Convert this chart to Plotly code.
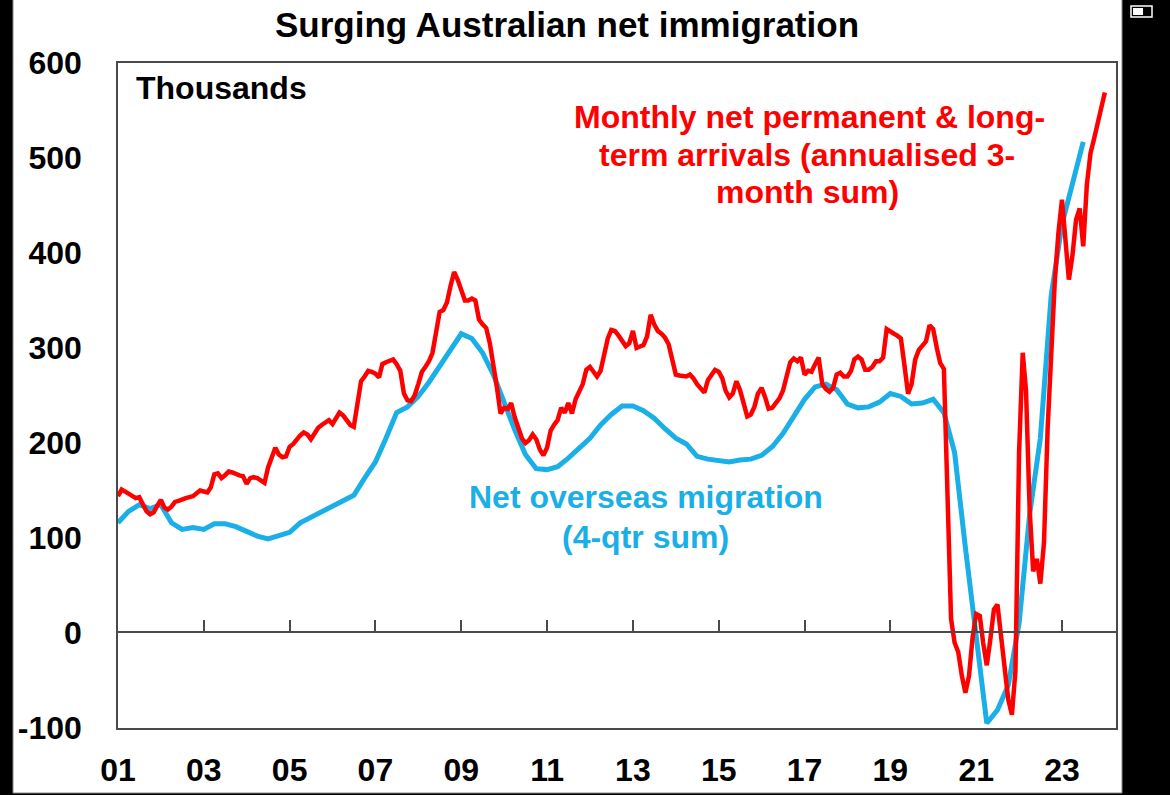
import pandas as pd
import plotly.graph_objects as go

# ---------------- data ----------------
# Monthly net permanent & long-term arrivals (annualised 3-month sum), thousands, Jan 2001 .. Jan 2024
red_2001 = [144, 151, 149, 147, 144, 142, 143, 136, 128, 125, 127, 134]
red_2002 = [140, 132, 130, 133, 138, 139, 141, 142, 143, 144, 147, 150]
red_2003 = [149, 148, 153, 167, 168, 163, 166, 170, 169, 167, 166, 165]
red_2004 = [157, 163, 164, 163, 160, 158, 174, 185, 195, 188, 185, 186]
red_2005 = [196, 199, 204, 208, 211, 209, 204, 210, 216, 219, 221, 224]
red_2006 = [220, 226, 232, 229, 224, 219, 217, 241, 265, 270, 276, 275]
red_2007 = [273, 269, 283, 285, 287, 288, 283, 276, 252, 245, 244, 250]
red_2008 = [262, 275, 280, 286, 295, 320, 338, 340, 348, 365, 380, 372]
red_2009 = [362, 350, 350, 352, 350, 330, 325, 321, 305, 285, 258, 231]
red_2010 = [237, 236, 242, 227, 215, 205, 200, 203, 209, 204, 193, 187]
red_2011 = [195, 213, 219, 224, 237, 232, 242, 231, 246, 253, 262, 277]
red_2012 = [280, 275, 270, 276, 294, 310, 319, 318, 313, 307, 302, 305]
red_2013 = [318, 300, 301, 303, 312, 335, 325, 318, 315, 311, 304, 288]
red_2014 = [272, 271, 271, 270, 272, 268, 262, 257, 253, 266, 272, 277]
red_2015 = [275, 268, 255, 248, 252, 265, 256, 242, 228, 230, 238, 252]
red_2016 = [258, 248, 236, 237, 242, 247, 255, 271, 285, 289, 286, 290]
red_2017 = [272, 276, 275, 283, 290, 262, 257, 254, 258, 272, 274, 270]
red_2018 = [270, 276, 288, 291, 288, 277, 277, 280, 286, 286, 290, 320]
red_2019 = [317, 315, 313, 310, 282, 252, 262, 288, 298, 302, 307, 324]
red_2020 = [320, 300, 284, 278, 130, 15, -10, -20, -45, -63, -45, -5]
red_2021 = [20, 18, -10, -34, -7, 25, 30, -5, -42, -70, -86, -40]
red_2022 = [190, 295, 255, 130, 65, 78, 52, 95, 215, 300, 370, 420]
red_2023 = [456, 412, 372, 398, 435, 447, 407, 472, 505, 520, 535, 552]
red_2024 = [569]

# Net overseas migration (4-qtr sum), thousands, quarterly 2001Q1 .. 2023Q3
nom_2001_2005 = [116, 128, 135, 131, 135, 116, 109, 111, 109, 115, 115, 112,
                 107, 102, 99, 102, 106, 116, 122, 128]
nom_2006_2010 = [134, 140, 145, 163, 180, 205, 232, 238, 249, 264, 281, 298,
                 315, 310, 295, 272, 241, 214, 188, 173]
nom_2011_2015 = [172, 175, 184, 194, 205, 219, 230, 239, 239, 234, 226, 215,
                 205, 199, 186, 183, 181, 180, 182, 183]
nom_2016_2020 = [187, 196, 210, 229, 246, 259, 262, 256, 241, 237, 238, 243,
                 252, 249, 241, 242, 246, 232, 190, 90]
nom_2021_2023 = [-4, -95, -81, -55, 10, 125, 205, 355, 430, 475, 517]

x_tick_dates = ["2001-01-01", "2003-01-01", "2005-01-01", "2007-01-01", "2009-01-01",
                "2011-01-01", "2013-01-01", "2015-01-01", "2017-01-01", "2019-01-01",
                "2021-01-01", "2023-01-01"]
x_tick_labels = ["01", "03", "05", "07", "09", "11", "13", "15", "17", "19", "21", "23"]
y_tick_vals = [-100, 0, 100, 200, 300, 400, 500, 600]
y_tick_labels = ["-100", "0", "100", "200", "300", "400", "500", "600"]

red_vals = (red_2001 + red_2002 + red_2003 + red_2004 + red_2005 + red_2006 + red_2007 +
            red_2008 + red_2009 + red_2010 + red_2011 + red_2012 + red_2013 + red_2014 +
            red_2015 + red_2016 + red_2017 + red_2018 + red_2019 + red_2020 + red_2021 +
            red_2022 + red_2023 + red_2024)
nom_vals = nom_2001_2005 + nom_2006_2010 + nom_2011_2015 + nom_2016_2020 + nom_2021_2023

red_dates = pd.date_range("2001-01-01", periods=len(red_vals), freq="MS")
nom_dates = pd.date_range("2001-01-01", periods=len(nom_vals), freq="QS")

# ---------------- styling ----------------
RED = "#FF0000"
BLUE = "#1AAFE6"
FRAME = "#4a4a4a"
FONT = "Liberation Sans, Arial, sans-serif"

W, H = 1170, 803                    # a little taller than the window; bottom strip is off-screen
L, R, T, B = 118, 1116, 63, 728     # plot area in pixels


def px(xpix):
    return (xpix - L) / (R - L)


def py(ypix):
    return (B - ypix) / (B - T)


x_range = ["2001-01-01", "2024-04-05"]

fig = go.Figure()
fig.add_trace(go.Scatter(x=nom_dates, y=nom_vals, mode="lines",
                         line=dict(color=BLUE, width=5),
                         name="Net overseas migration (4-qtr sum)", hoverinfo="x+y"))
fig.add_trace(go.Scatter(x=red_dates, y=red_vals, mode="lines",
                         line=dict(color=RED, width=4.5),
                         name="Monthly net permanent & long-term arrivals", hoverinfo="x+y"))
# carrier for the zero-line axis with inside ticks
fig.add_trace(go.Scatter(x=red_dates, y=red_vals, mode="lines", xaxis="x2",
                         line=dict(color="rgba(0,0,0,0)", width=0),
                         showlegend=False, hoverinfo="skip"))

annotations = [
    dict(text="Thousands", x=px(134), y=py(88), xanchor="left", yanchor="middle",
         font=dict(size=32, color="black", weight="bold")),
    dict(text="Monthly net permanent & long-", x=px(809), y=py(117), xanchor="center",
         yanchor="middle", font=dict(size=32, color=RED, weight="bold")),
    dict(text="term arrivals (annualised 3-", x=px(807), y=py(155), xanchor="center",
         yanchor="middle", font=dict(size=32, color=RED, weight="bold")),
    dict(text="month sum)", x=px(807), y=py(192), xanchor="center",
         yanchor="middle", font=dict(size=32, color=RED, weight="bold")),
    dict(text="Net overseas migration", x=px(646), y=py(497), xanchor="center",
         yanchor="middle", font=dict(size=32, color=BLUE, weight="bold")),
    dict(text="(4-qtr sum)", x=px(645), y=py(537), xanchor="center",
         yanchor="middle", font=dict(size=32, color=BLUE, weight="bold")),
]
for a in annotations:
    a.update(xref="paper", yref="paper", showarrow=False)

shapes = [
    # white page area inside the black screenshot border
    dict(type="rect", xref="paper", yref="paper", layer="below",
         x0=px(13), x1=px(1122), y0=py(793), y1=py(-5),
         fillcolor="white", line=dict(width=1, color="#888888")),
    # status-bar battery icon
    dict(type="rect", xref="paper", yref="paper", layer="above",
         x0=px(1131), x1=px(1152), y0=py(17), y1=py(6),
         fillcolor="black", line=dict(width=1.5, color="white")),
    dict(type="rect", xref="paper", yref="paper", layer="above",
         x0=px(1133), x1=px(1143), y0=py(15), y1=py(8),
         fillcolor="white", line=dict(width=0)),
]

fig.update_layout(
    width=W, height=H,
    margin=dict(l=L, r=W - R, t=T, b=H - B, pad=0),
    paper_bgcolor="black",
    plot_bgcolor="rgba(0,0,0,0)",
    font=dict(family=FONT, color="black"),
    showlegend=False,
    title=dict(text="Surging Australian net immigration", xref="container", yref="container",
               x=567 / W, y=1 - 25 / H, xanchor="center", yanchor="middle",
               font=dict(size=35, color="black", weight="bold", family=FONT)),
    xaxis=dict(type="date", range=x_range, showgrid=False, zeroline=False,
               showline=True, mirror=True, linecolor=FRAME, linewidth=1.5,
               tickmode="array", tickvals=x_tick_dates, ticktext=x_tick_labels,
               ticks="", ticklabelstandoff=13,
               tickfont=dict(size=32, color="black", weight="bold", family=FONT)),
    xaxis2=dict(type="date", range=x_range, overlaying="x", anchor="free",
                position=py(632), side="bottom", showgrid=False, zeroline=False,
                showline=True, linecolor=FRAME, linewidth=1.5,
                tickmode="array", tickvals=x_tick_dates, ticks="inside",
                ticklen=11, tickwidth=1.5, tickcolor=FRAME, showticklabels=False),
    yaxis=dict(range=[-100, 600], showgrid=False, zeroline=False,
               showline=True, mirror=True, linecolor=FRAME, linewidth=1.5,
               tickmode="array", tickvals=y_tick_vals, ticktext=y_tick_labels,
               ticks="", ticklabelstandoff=28,
               tickfont=dict(size=32, color="black", weight="bold", family=FONT)),
    annotations=annotations,
    shapes=shapes,
)

page_fix = ("document.documentElement.style.margin='0';"
            "document.body.style.margin='0';"
            "document.body.style.overflow='hidden';"
            "document.body.style.background='black';")

fig.write_html("out.html", post_script=page_fix, config={"displayModeBar": False})
